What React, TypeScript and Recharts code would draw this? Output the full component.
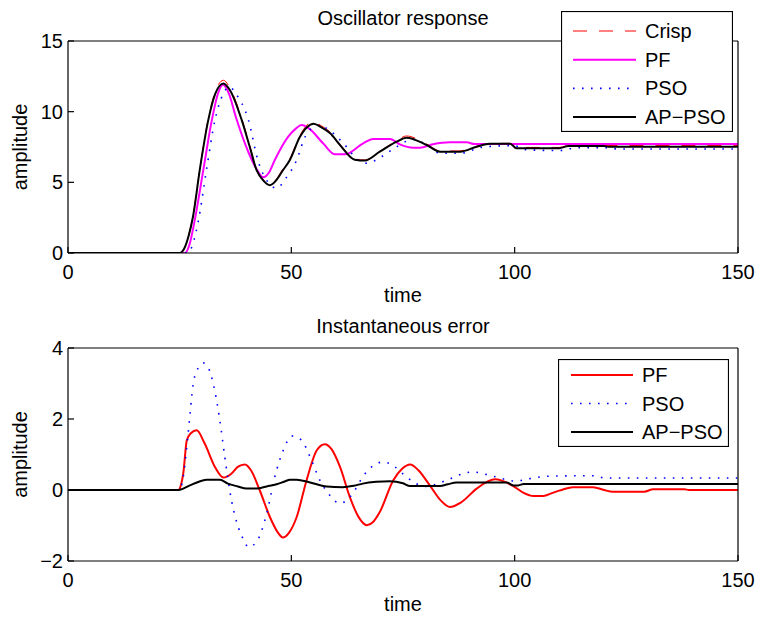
import { LineChart, Line, XAxis, YAxis, Legend } from 'recharts'

const FONT = '"Liberation Sans", Arial, Helvetica, sans-serif'

const timeTicks = [0, 50, 100, 150]
const respTicks = [0, 5, 10, 15]
const errTicks = [-2, 0, 2, 4]

// Oscillator response
const crispT = [0, 25, 26, 27, 28, 29.5, 31.4, 33, 34.8, 36.3, 38.9, 40.7, 42.2, 43.8, 45.3, 46.6, 48, 49.7, 51.9, 53.5, 55, 56.7, 58.7, 61, 64.2, 66.3, 69.8, 73.6, 75.8, 80.3, 83.3, 87.5, 91.5, 94.5, 99, 100.4, 110, 112, 150]
const crispV = [0, 0, 0.3, 1.25, 2.7, 5.95, 9.5, 11.45, 12.22, 11.65, 9.5, 7.6, 5.95, 5.15, 4.88, 5.2, 5.9, 6.7, 8.3, 9.05, 9.3, 9.0, 8.55, 7.65, 6.65, 6.58, 7.2, 7.95, 8.28, 7.7, 7.22, 7.22, 7.56, 7.76, 7.76, 7.47, 7.47, 7.6, 7.6]

const pfT = [0, 26.2, 27.2, 28.3, 30.3, 32.2, 33.6, 34.7, 36, 37.6, 40.3, 42.3, 43.7, 45, 46.3, 49.3, 51, 52.3, 54, 57.1, 59.8, 62, 66.1, 68.3, 72.1, 74.3, 77.3, 78.8, 81.7, 85.5, 89.3, 91, 150]
const pfV = [0, 0, 0.6, 2.2, 5.88, 9.4, 11.3, 11.9, 11.3, 9.6, 7.2, 5.9, 5.36, 5.7, 6.58, 8.23, 8.8, 9.05, 8.8, 7.76, 6.98, 6.98, 7.76, 8.07, 8.07, 7.69, 7.45, 7.45, 7.69, 7.83, 7.83, 7.71, 7.71]

const psoT = [0, 26.9, 28, 29.2, 31, 32.9, 34.3, 36.2, 37.5, 40.4, 42.5, 44.8, 46.7, 48.8, 51.2, 53.1, 56, 58.5, 60.9, 62.4, 64.5, 66.9, 70.2, 73.6, 77.3, 80.3, 83.3, 87.8, 93, 99.7, 102.7, 110, 114, 121, 123, 150]
const psoV = [0, 0, 0.7, 2.3, 5.88, 9.4, 10.94, 11.76, 11.3, 9.4, 6.58, 5.0, 4.59, 5.3, 6.58, 8.23, 9.05, 8.7, 8.0, 7.5, 6.7, 6.35, 6.82, 7.52, 8.04, 7.64, 7.06, 7.06, 7.5, 7.6, 7.3, 7.25, 7.45, 7.45, 7.36, 7.36]

const apT = [0, 25, 26, 27, 28, 29.5, 31.4, 33, 34.8, 36.3, 38.9, 40.7, 42.2, 43.8, 45.2, 46.5, 48, 49.7, 51.9, 53.5, 55, 56.7, 58.7, 61, 64.2, 66.5, 69.8, 73.6, 75.8, 80.3, 83.3, 87.8, 91.5, 94.5, 99, 100.4, 110, 112, 120, 121, 150]
const apV = [0, 0, 0.3, 1.2, 2.6, 5.88, 9.4, 11.3, 12.0, 11.5, 9.4, 7.5, 5.88, 5.1, 4.8, 5.1, 5.8, 6.6, 8.2, 8.9, 9.15, 8.9, 8.47, 7.6, 6.6, 6.54, 7.17, 7.88, 8.16, 7.64, 7.17, 7.17, 7.52, 7.73, 7.73, 7.42, 7.42, 7.57, 7.57, 7.52, 7.52]

// Instantaneous error
const errPfT = [0, 24.7, 25.3, 25.8, 26.6, 27.5, 28.8, 30.6, 32.9, 34.8, 36.5, 38, 39.6, 41, 42.9, 45.2, 47, 48.1, 49.5, 51.2, 53.4, 55.7, 57.5, 59, 60.9, 63.1, 65, 66.9, 68.3, 69.8, 72.8, 74.8, 76.6, 78.5, 81, 83.5, 85.5, 88, 91.5, 95.6, 99.7, 102, 104.2, 106.4, 108.5, 111.6, 113, 117.6, 120, 122, 129, 131, 138, 139, 150]
const errPfV = [0, 0, 0.15, 0.46, 1.4, 1.6, 1.68, 1.31, 0.65, 0.35, 0.45, 0.65, 0.72, 0.55, 0, -0.76, -1.2, -1.34, -1.2, -0.76, 0.27, 1.12, 1.29, 1.15, 0.65, -0.2, -0.75, -0.99, -0.9, -0.62, 0.27, 0.6, 0.72, 0.55, 0.13, -0.3, -0.48, -0.35, 0.04, 0.3, 0.11, -0.08, -0.17, -0.17, -0.08, 0.04, 0.08, 0.08, 0.0, -0.05, -0.05, 0.02, 0.02, 0, 0]

const errPsoT = [0, 25, 25.8, 26.9, 28.05, 29.2, 30.3, 31.4, 32.5, 34, 35.1, 36.6, 38.1, 39.3, 40.4, 42.2, 44.5, 46.3, 48.2, 50.1, 52.3, 54.2, 56.4, 58.3, 60.9, 63.1, 66.5, 68.5, 70.6, 72.4, 75.4, 77.3, 80, 85.1, 88.9, 90.6, 94.5, 98.2, 100, 104.2, 108, 114, 118, 120, 150]
const errPsoV = [0, 0, 0.37, 1.59, 3.0, 3.45, 3.58, 3.45, 3.0, 1.96, 0.93, -0.29, -1.04, -1.4, -1.61, -1.46, -0.66, 0.37, 1.12, 1.52, 1.4, 0.93, 0.27, -0.1, -0.38, -0.2, 0.46, 0.7, 0.79, 0.72, 0.41, 0.23, 0.1, 0.29, 0.48, 0.51, 0.41, 0.29, 0.25, 0.34, 0.39, 0.4, 0.4, 0.34, 0.34]

const errApT = [0, 24.7, 27.3, 29, 31, 34, 35.8, 38, 40, 42.2, 44.5, 46.7, 48.5, 49.7, 51.2, 54, 57.9, 61.5, 64, 66, 69, 72, 75, 76.6, 83.3, 85, 87, 98.2, 99.7, 100.8, 102, 150]
const errApV = [0, 0, 0.13, 0.22, 0.29, 0.29, 0.18, 0.1, 0.04, 0.04, 0.1, 0.16, 0.24, 0.29, 0.29, 0.22, 0.1, 0.08, 0.12, 0.18, 0.23, 0.25, 0.19, 0.11, 0.11, 0.16, 0.21, 0.21, 0.13, 0.13, 0.17, 0.17]

const pts = (t: number[], v: number[]) => t.map((x, i) => ({ t: x, v: v[i] }))

type Series = { name: string; color: string; width: number; dash?: string; data: { t: number; v: number }[] }

const DOT = '1.6 7.4'

const respSeries: Series[] = [
  { name: 'Crisp', color: '#ff0000', width: 1, dash: '14 12', data: pts(crispT, crispV) },
  { name: 'PF', color: '#ff00ff', width: 2, data: pts(pfT, pfV) },
  { name: 'PSO', color: '#0000ff', width: 1.6, dash: DOT, data: pts(psoT, psoV) },
  { name: 'AP\u2212PSO', color: '#000000', width: 2, data: pts(apT, apV) },
]

const errSeries: Series[] = [
  { name: 'PF', color: '#ff0000', width: 2, data: pts(errPfT, errPfV) },
  { name: 'PSO', color: '#0000ff', width: 1.6, dash: DOT, data: pts(errPsoT, errPsoV) },
  { name: 'AP\u2212PSO', color: '#000000', width: 2, data: pts(errApT, errApV) },
]

const fmt = (v: number) => String(v).replace('-', '\u2212')

function LegendBox({ w, h, rowTop, gap, lineX, lineW, textX, items }: any) {
  return (
    <svg width={w} height={h} style={{ display: 'block' }}>
      <rect x={0.5} y={0.5} width={w - 1} height={h - 1} fill="#fff" stroke="#000" strokeWidth={1.2} />
      {items.map((it: Series, i: number) => {
        const y = rowTop + i * gap
        return (
          <g key={it.name}>
            <line x1={lineX} x2={lineX + lineW} y1={y} y2={y} stroke={it.color} strokeWidth={it.width} strokeDasharray={it.dash} />
            <text x={textX} y={y + 7} fontFamily={FONT} fontSize={20} fill="#000">{it.name}</text>
          </g>
        )
      })}
    </svg>
  )
}

const axisTick = { fill: '#000', fontSize: 20, fontFamily: FONT }

function Panel({ title, titleOffset, domain, yTicks, series, legend, mTop, mBottom, timeOffset }: any) {
  return (
    <LineChart width={761} height={309} margin={{ top: mTop, right: 22, bottom: mBottom, left: 8 }}>
      <XAxis xAxisId="b" dataKey="t" type="number" domain={[0, 150]} ticks={timeTicks} interval={0} allowDataOverflow
        height={34} tickSize={-6} tickMargin={18} stroke="#000" strokeWidth={1.2} tick={axisTick}
        label={{ value: 'time', position: 'bottom', offset: timeOffset, fill: '#000', fontSize: 20, fontFamily: FONT }} />
      <XAxis xAxisId="top" orientation="top" dataKey="t" type="number" domain={[0, 150]} ticks={timeTicks} interval={0} allowDataOverflow
        height={1} tickSize={-6} stroke="#000" strokeWidth={1.2} tick={false}
        label={{ value: title, position: 'top', offset: titleOffset, fill: '#000', fontSize: 20, fontFamily: FONT }} />
      <YAxis yAxisId="l" type="number" domain={domain} ticks={yTicks} interval={0} allowDataOverflow
        width={60} tickSize={-6} tickMargin={11} stroke="#000" strokeWidth={1.2} tick={axisTick} tickFormatter={fmt}
        label={{ value: 'amplitude', angle: -90, position: 'insideLeft', offset: 12, fill: '#000', fontSize: 20, fontFamily: FONT, style: { textAnchor: 'middle' } }} />
      <YAxis yAxisId="r" orientation="right" type="number" domain={domain} ticks={yTicks} interval={0} allowDataOverflow
        width={1} tickSize={-6} stroke="#000" strokeWidth={1.2} tick={false} />
      {series.map((s: Series) => (
        <Line key={s.name} xAxisId="b" yAxisId="l" data={s.data} dataKey="v" type="monotone" stroke={s.color}
          strokeWidth={s.width} strokeDasharray={s.dash} dot={false} activeDot={false} isAnimationActive={false} />
      ))}
      <Legend layout="vertical" align="center" verticalAlign="middle"
        wrapperStyle={{ left: legend.left, top: legend.top, width: legend.w, height: legend.h }}
        content={() => <LegendBox {...legend} items={series} />} />
    </LineChart>
  )
}

export default function App() {
  return (
    <div style={{ position: 'absolute', left: 0, top: 0, width: 761, height: 618, background: '#fff' }}>
      <div style={{ position: 'absolute', left: 0, top: 0 }}>
        <Panel title="Oscillator response" titleOffset={15} domain={[0, 15]} yTicks={respTicks} series={respSeries}
          mTop={40} mBottom={22} timeOffset={1}
          legend={{ left: 561, top: 11, w: 172, h: 121, rowTop: 20, gap: 28.7, lineX: 12, lineW: 63, textX: 84 }} />
      </div>
      <div style={{ position: 'absolute', left: 0, top: 309 }}>
        <Panel title="Instantaneous error" titleOffset={14} domain={[-2, 4]} yTicks={errTicks} series={errSeries}
          mTop={38} mBottom={23} timeOffset={2}
          legend={{ left: 558, top: 50, w: 171, h: 88, rowTop: 16, gap: 28.5, lineX: 13, lineW: 62, textX: 84 }} />
      </div>
    </div>
  )
}
